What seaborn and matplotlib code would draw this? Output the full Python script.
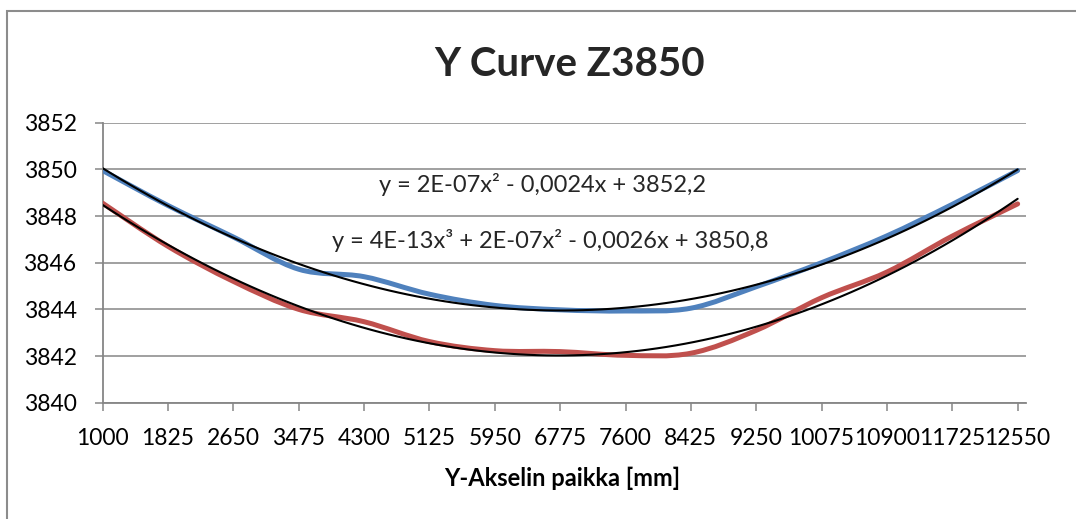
import numpy as np
import pandas as pd
import seaborn as sns
import matplotlib
matplotlib.use("Agg")
import matplotlib.pyplot as plt
from matplotlib.path import Path
from matplotlib.patches import PathPatch, Rectangle

# Measurement positions along the Y axis [mm]
positions = [1000, 1825, 2650, 3475, 4300, 5125, 5950, 6775,
             7600, 8425, 9250, 10075, 10900, 11725, 12550]

# Measured heights of the two runs
run_blue = [3849.95, 3848.45, 3847.10, 3845.72, 3845.40, 3844.65, 3844.17, 3843.98,
            3843.93, 3844.05, 3844.97, 3846.00, 3847.15, 3848.50, 3849.95]
run_red = [3848.55, 3846.70, 3845.20, 3844.00, 3843.47, 3842.62, 3842.23, 3842.19,
           3842.03, 3842.12, 3843.10, 3844.50, 3845.60, 3847.14, 3848.52]

y_ticks = [3840, 3842, 3844, 3846, 3848, 3850, 3852]

title = "Y Curve Z3850"
x_label = "Y-Akselin paikka [mm]"
eq_blue = "y = 2E-07x\u00b2 - 0,0024x + 3852,2"
eq_red = "y = 4E-13x\u00b3 + 2E-07x\u00b2 - 0,0026x + 3850,8"

BLUE = "#4F81BD"
RED = "#C0504D"
GRID = "#868686"

sns.set_theme(style="white")
plt.rcParams["font.family"] = ["Lato", "DejaVu Sans"]

df = pd.DataFrame({"pos": positions, "blue": run_blue, "red": run_red})

fig = plt.figure(figsize=(10.76, 5.19), dpi=100)
fig.patch.set_facecolor("white")
ax = fig.add_axes([0.0954, 0.2241, 0.8581, 0.5395])


def smoothed_path(xs, ys):
    """Bezier path through the points, like a spreadsheet 'smoothed line'."""
    xs = np.asarray(xs, float)
    ys = np.asarray(ys, float)
    n = len(xs)
    verts = [(xs[0], ys[0])]
    codes = [Path.MOVETO]
    for i in range(n - 1):
        a = max(i - 1, 0)
        d = min(i + 2, n - 1)
        c1 = (xs[i] + (xs[i + 1] - xs[a]) / 6, ys[i] + (ys[i + 1] - ys[a]) / 6)
        c2 = (xs[i + 1] - (xs[d] - xs[i]) / 6, ys[i + 1] - (ys[d] - ys[i]) / 6)
        verts += [c1, c2, (xs[i + 1], ys[i + 1])]
        codes += [Path.CURVE4] * 3
    return Path(verts, codes)


for col, color in (("blue", BLUE), ("red", RED)):
    patch = PathPatch(smoothed_path(df["pos"], df[col]), facecolor="none",
                      edgecolor=color, lw=3.6, capstyle="round",
                      joinstyle="round", transform=ax.transData, zorder=3)
    ax.add_patch(patch)

# Polynomial trend lines
sns.regplot(data=df, x="pos", y="blue", order=2, ci=None, scatter=False,
            line_kws={"color": "black", "lw": 1.5, "zorder": 4}, ax=ax)
sns.regplot(data=df, x="pos", y="red", order=3, ci=None, scatter=False,
            line_kws={"color": "black", "lw": 1.5, "zorder": 4}, ax=ax)

ax.set_xlim(1000, 12655)
ax.set_ylim(3840, 3852)
ax.set_xticks(positions)
ax.set_xticklabels([str(p) for p in positions], fontsize=16.5)
ax.set_yticks(y_ticks)
ax.set_yticklabels([str(v) for v in y_ticks], fontsize=16.5)

ax.grid(axis="y", color=GRID, lw=1.1)
ax.grid(axis="x", visible=False)
ax.set_axisbelow(True)

for side in ("top", "right"):
    ax.spines[side].set_visible(False)
for side in ("left", "bottom"):
    ax.spines[side].set_color(GRID)
    ax.spines[side].set_linewidth(1.3)

ax.tick_params(axis="x", direction="out", length=5.8, width=1.1, color=GRID,
               pad=12.5, bottom=True, labelcolor="black")
ax.tick_params(axis="y", direction="out", length=5.8, width=1.1, color=GRID,
               pad=13, left=True, labelcolor="black")

ax.set_ylabel("")
ax.set_xlabel(x_label, fontsize=17, fontweight="bold", color="black")
ax.xaxis.label.set_va("center")
ax.xaxis.set_label_coords(0.498, -0.269)

ax.text(6558, 3849.33, eq_blue, fontsize=17, ha="center", va="center", zorder=5)
ax.text(6648, 3846.97, eq_red, fontsize=17, ha="center", va="center", zorder=5)

fig.text(570 / 1076, 1 - 64 / 519, title, fontsize=29, fontweight="bold",
         ha="center", va="center")

# Chart frame
fig.patches.append(Rectangle((6.5 / 1076, -0.1), 1.2, 1.1 - 10.5 / 519,
                             transform=fig.transFigure, fill=False,
                             edgecolor="#8C8C8C", lw=1.5, zorder=0))

fig.savefig("out.png", dpi=100)
